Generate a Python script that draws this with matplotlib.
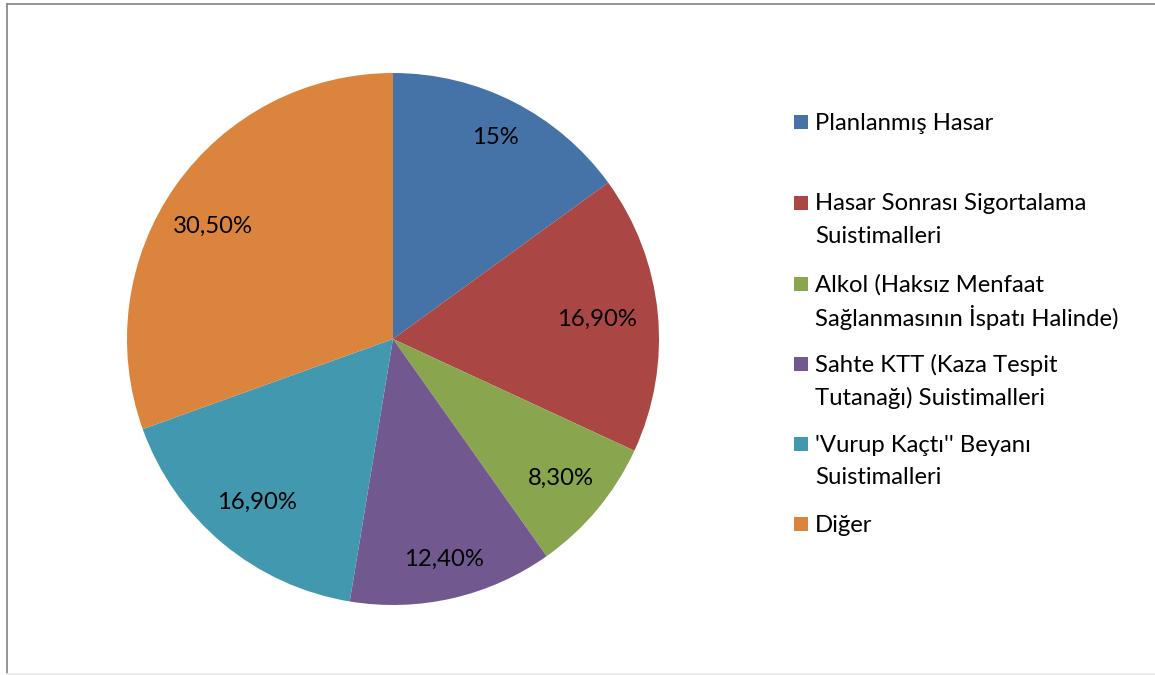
import matplotlib
matplotlib.use("Agg")
import matplotlib.pyplot as plt
from matplotlib.patches import Rectangle
from matplotlib.lines import Line2D
import numpy as np

categories = [
    "Planlanmış Hasar",
    "Hasar Sonrası Sigortalama\nSuistimalleri",
    "Alkol (Haksız Menfaat\nSağlanmasının İspatı Halinde)",
    "Sahte KTT (Kaza Tespit\nTutanağı) Suistimalleri",
    "'Vurup Kaçtı'' Beyanı\nSuistimalleri",
    "Diğer",
]
values = [15.0, 16.9, 8.3, 12.4, 16.9, 30.5]
value_labels = ["15%", "16,90%", "8,30%", "12,40%", "16,90%", "30,50%"]
colors = ["#4572A7", "#AA4643", "#89A54E", "#71588F", "#4198AF", "#DB843D"]

W, H = 1155, 675
fig = plt.figure(figsize=(W / 100, H / 100), dpi=100)
plt.rcParams["font.family"] = ["Lato", "DejaVu Sans"]
FS = 17.2


def fx(px):
    return px / W


def fy(py):
    return (H - py) / H


# outer chart frame (left and top edges visible, bottom faint)
fig.add_artist(Line2D([fx(6.5), fx(6.5)], [fy(3.5), fy(675)],
                      transform=fig.transFigure, color="#8c8c8c", lw=1.3))
fig.add_artist(Line2D([fx(6.5), fx(1160)], [fy(3.5), fy(3.5)],
                      transform=fig.transFigure, color="#8c8c8c", lw=1.3))
fig.add_artist(Line2D([fx(6.5), fx(1160)], [fy(673.5), fy(673.5)],
                      transform=fig.transFigure, color="#ececec", lw=1.3))

cx, cy, r = 393, 339, 266
ax = fig.add_axes([fx(cx - r), fy(cy + r), 2 * r / W, 2 * r / H])
wedges, _ = ax.pie(values, colors=colors, startangle=90, counterclock=False,
                   wedgeprops=dict(linewidth=0))
ax.set_xlim(-1, 1)
ax.set_ylim(-1, 1)
ax.set_aspect("equal")
ax.axis("off")

# data labels placed inside each wedge along its bisector
label_dist = [0.85, 0.77, 0.82, 0.85, 0.80, 0.80]
label_turn = [0, 0, 0, 0, 0, 3]
for w, lab, d, t in zip(wedges, value_labels, label_dist, label_turn):
    ang = np.deg2rad((w.theta1 + w.theta2) / 2 + t)
    ax.text(d * np.cos(ang), d * np.sin(ang), lab, ha="center", va="center",
            fontsize=FS, color="#000000")

# legend
first_line_y = [123, 204, 285, 365, 445, 525]
line_h = 32.5
for cat, col, y in zip(categories, colors, first_line_y):
    fig.patches.append(Rectangle((fx(794), fy(y + 6)), 14 / W, 14 / H,
                                 transform=fig.transFigure, facecolor=col,
                                 edgecolor="none"))
    for i, line in enumerate(cat.split("\n")):
        fig.text(fx(815), fy(y + i * line_h), line, ha="left",
                 va="center", fontsize=FS, color="#000000")

fig.savefig("out.png", dpi=100, facecolor="white")
